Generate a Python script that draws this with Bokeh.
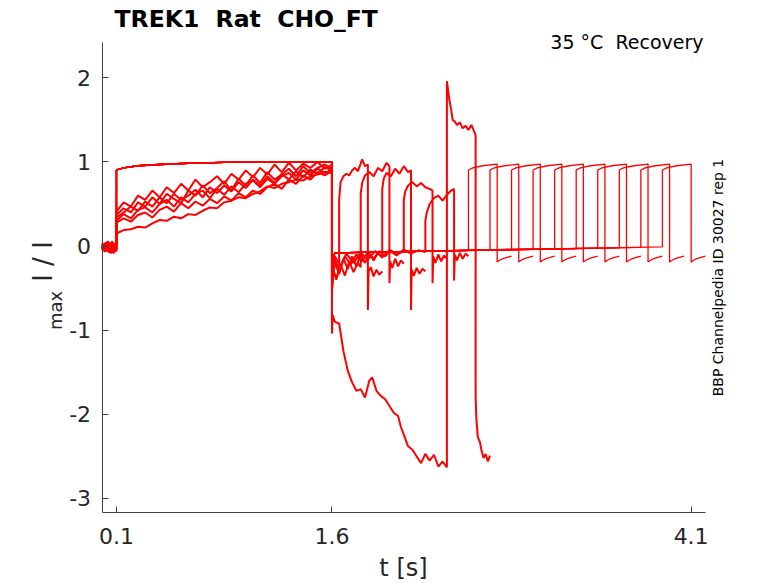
import math
from bokeh.plotting import figure
from bokeh.models import Range1d, FixedTicker, Label
from bokeh.embed import file_html
from bokeh.resources import INLINE

FONT = "DejaVu Sans"

# onset of the second (test) pulse in each sweep [s]
pulse2_on = [1.65, 1.80, 1.95, 2.10, 2.25, 2.40, 2.55, 2.70, 2.85, 3.00,
             3.15, 3.30, 3.45, 3.60, 3.75, 3.90]

# ---- clean sweeps (test pulse from 2.55 s on) ----
clean_base_t = [0.0, 0.10]
clean_base_i = [0.0, 0.0]
clean_p1_t = [0.10, 0.15, 0.25, 0.40, 0.60, 0.85, 1.20, 1.60]
clean_p1_i = [0.905, 0.93, 0.955, 0.97, 0.985, 0.995, 1.0, 1.0]
clean_tail_t = [1.60, 1.62]
clean_tail_i = [-0.20, -0.08]
clean_tail_end = [-0.05, -0.045, -0.04, -0.035, -0.03, -0.03, -0.025, -0.02, -0.015, -0.01]
clean_p2_dt = [0.0, 0.03, 0.10, 0.20]
clean_p2_i = [0.905, 0.93, 0.955, 0.975]
clean_post_dt = [0.20, 0.22, 0.245, 0.275, 0.30]
clean_post_i = [-0.19, -0.165, -0.145, -0.13, -0.12]

# ---- noisy sweeps (test pulse 1.65 .. 2.40 s) ----
noisy_base_t = [0.0, 0.01, 0.02, 0.03, 0.04, 0.05, 0.06, 0.07, 0.08, 0.09, 0.10]
noisy_base_i = [
    [-0.02, 0.03, -0.05, 0.01, -0.07, 0.02, -0.04, 0.04, -0.06, 0.00, -0.03],
    [0.01, -0.04, 0.04, -0.06, 0.00, -0.08, 0.03, -0.05, 0.02, -0.07, -0.01],
    [-0.05, 0.02, -0.03, 0.05, -0.06, 0.01, -0.09, 0.03, -0.04, 0.02, -0.05],
    [0.03, -0.06, 0.00, -0.03, 0.06, -0.05, 0.01, -0.08, 0.04, -0.02, 0.00],
    [-0.03, 0.00, -0.07, 0.03, -0.02, 0.05, -0.04, 0.00, -0.09, 0.03, -0.04],
    [0.00, -0.05, 0.02, -0.02, -0.06, 0.04, -0.03, 0.06, -0.05, -0.01, -0.06],
]
noisy_p1_t = [0.10, 0.15, 0.20, 0.25, 0.30, 0.35, 0.40, 0.45, 0.50, 0.55,
              0.60, 0.65, 0.70, 0.75, 0.80, 0.85, 0.90, 0.95, 1.00, 1.05,
              1.10, 1.15, 1.20, 1.25, 1.30, 1.35, 1.40, 1.45, 1.50, 1.55, 1.60]
noisy_p1_i = [
    [0.41, 0.52, 0.47, 0.60, 0.55, 0.66, 0.58, 0.70, 0.63, 0.74, 0.66, 0.79, 0.70, 0.76, 0.83, 0.74,
     0.86, 0.79, 0.90, 0.82, 0.93, 0.85, 0.97, 0.88, 0.99, 0.90, 0.98, 0.93, 1.00, 0.92, 0.97],
    [0.37, 0.45, 0.40, 0.52, 0.47, 0.58, 0.50, 0.62, 0.56, 0.51, 0.66, 0.60, 0.72, 0.63, 0.69, 0.77,
     0.66, 0.80, 0.72, 0.84, 0.75, 0.88, 0.79, 0.85, 0.92, 0.83, 0.95, 0.87, 0.93, 0.97, 0.92],
    [0.34, 0.40, 0.47, 0.42, 0.53, 0.47, 0.58, 0.51, 0.62, 0.55, 0.60, 0.67, 0.58, 0.70, 0.63, 0.72,
     0.65, 0.76, 0.69, 0.79, 0.72, 0.83, 0.75, 0.86, 0.79, 0.89, 0.82, 0.91, 0.86, 0.94, 0.90],
    [0.30, 0.38, 0.33, 0.43, 0.46, 0.40, 0.50, 0.55, 0.47, 0.58, 0.52, 0.62, 0.66, 0.57, 0.68, 0.61,
     0.71, 0.64, 0.74, 0.78, 0.70, 0.80, 0.74, 0.83, 0.87, 0.79, 0.90, 0.84, 0.92, 0.87, 0.91],
    [0.15, 0.19, 0.20, 0.23, 0.22, 0.27, 0.31, 0.30, 0.35, 0.33, 0.38, 0.37, 0.42, 0.46, 0.45, 0.52,
     0.54, 0.58, 0.57, 0.62, 0.65, 0.71, 0.69, 0.74, 0.76, 0.79, 0.78, 0.83, 0.85, 0.88, 0.87],
    [0.28, 0.33, 0.29, 0.37, 0.40, 0.34, 0.43, 0.47, 0.41, 0.51, 0.45, 0.53, 0.48, 0.56, 0.51, 0.59,
     0.54, 0.63, 0.58, 0.66, 0.62, 0.70, 0.74, 0.68, 0.79, 0.74, 0.84, 0.79, 0.88, 0.84, 0.90],
]
# from 1.6 s: tail, test pulse, and return to holding
noisy_rest_t = [
    [1.60, 1.61, 1.63, 1.65, 1.65, 1.66, 1.68, 1.70, 1.72, 1.74, 1.76, 1.78, 1.80, 1.81, 1.83, 1.85,
     1.85, 1.855, 1.87, 1.89, 1.91, 1.93, 1.95],
    [1.60, 1.61, 1.63, 1.66, 1.69, 1.72, 1.75, 1.78, 1.80, 1.80, 1.81, 1.83, 1.86, 1.89, 1.92, 1.95,
     1.98, 2.00, 2.00, 2.005, 2.02, 2.04, 2.06, 2.08, 2.10],
    [1.60, 1.62, 1.65, 1.68, 1.71, 1.74, 1.77, 1.80, 1.83, 1.86, 1.89, 1.92, 1.95, 1.95, 1.96, 1.98,
     2.01, 2.04, 2.07, 2.10, 2.13, 2.15, 2.15, 2.155, 2.17, 2.19, 2.21, 2.23, 2.25],
    [1.60, 1.62, 1.65, 1.69, 1.73, 1.77, 1.81, 1.85, 1.89, 1.93, 1.97, 2.01, 2.05, 2.10, 2.10, 2.11,
     2.13, 2.16, 2.19, 2.22, 2.25, 2.28, 2.30, 2.30, 2.305, 2.32, 2.34, 2.36, 2.38, 2.40],
    [1.60, 1.62, 1.66, 1.70, 1.75, 1.80, 1.85, 1.90, 1.95, 2.00, 2.05, 2.10, 2.15, 2.20, 2.25, 2.25,
     2.26, 2.28, 2.31, 2.34, 2.37, 2.40, 2.43, 2.45, 2.45, 2.455, 2.47, 2.49, 2.51, 2.53, 2.55],
    [1.60, 1.605, 1.62, 1.65, 1.68, 1.71, 1.74, 1.77, 1.80, 1.83, 1.86, 1.88, 1.91, 1.94, 1.97, 2.00,
     2.03, 2.06, 2.08, 2.10, 2.13, 2.16, 2.19, 2.22, 2.25, 2.28, 2.31, 2.34, 2.37, 2.40, 2.40, 2.405,
     2.415, 2.43, 2.44, 2.455, 2.47, 2.49, 2.51, 2.53, 2.55, 2.57, 2.59, 2.60, 2.60, 2.605, 2.615,
     2.63, 2.64, 2.655, 2.67, 2.685, 2.70],
]
noisy_rest_i = [
    [-0.55, -0.30, -0.38, -0.28, 0.55, 0.76, 0.83, 0.86, 0.84, 0.90, 0.93, 0.89, 0.98, 1.03, 0.95, 0.97,
     -0.76, -0.30, -0.25, -0.36, -0.28, -0.34, -0.30],
    [-0.50, -0.28, -0.40, -0.22, -0.35, -0.18, -0.31, -0.20, -0.25, 0.62, 0.75, 0.84, 0.88, 0.83, 0.93,
     0.89, 0.99, 0.95, -0.44, -0.18, -0.26, -0.15, -0.24, -0.17, -0.21],
    [-0.42, -0.20, -0.33, -0.15, -0.27, -0.12, -0.24, -0.10, -0.20, -0.09, -0.17, -0.08, -0.14, 0.68,
     0.80, 0.87, 0.83, 0.92, 0.86, 0.95, 0.88, 0.90, -0.76, -0.28, -0.35, -0.26, -0.33, -0.27, -0.30],
    [-0.38, -0.16, -0.28, -0.12, -0.22, -0.10, -0.18, -0.07, -0.15, -0.06, -0.12, -0.05, -0.10, -0.06,
     0.55, 0.65, 0.72, 0.76, 0.71, 0.75, 0.70, 0.68, 0.66, -0.44, -0.12, -0.20, -0.10, -0.18, -0.11, -0.15],
    [-0.35, -0.12, -0.24, -0.09, -0.20, -0.08, -0.16, -0.06, -0.13, -0.05, -0.11, -0.04, -0.09, -0.05,
     -0.07, 0.30, 0.40, 0.50, 0.57, 0.60, 0.54, 0.61, 0.66, 0.68, -0.41, -0.10, -0.17, -0.08, -0.15,
     -0.09, -0.12],
    [-1.04, -0.82, -0.90, -0.92, -1.25, -1.48, -1.62, -1.72, -1.70, -1.80, -1.60, -1.56, -1.72, -1.78,
     -1.82, -1.90, -1.98, -2.02, -2.15, -2.24, -2.38, -2.42, -2.50, -2.58, -2.47, -2.55, -2.48, -2.62,
     -2.56, -2.63, 1.96, 1.90, 1.76, 1.62, 1.50, 1.48, 1.44, 1.47, 1.40, 1.43, 1.38, 1.44, 1.36, 1.32,
     -1.78, -2.05, -2.27, -2.33, -2.42, -2.52, -2.47, -2.56, -2.49],
]

x_ticks = [0.1, 1.6, 4.1]
y_ticks = [-3, -2, -1, 0, 1, 2]
t_lim = (0.0, 4.2)
i_lim = (-3.17, 2.42)

# build sweeps
clean_xs, clean_ys = [], []
for k, t2 in enumerate(pulse2_on[6:]):
    clean_xs.append(clean_base_t + clean_p1_t + clean_tail_t + [t2]
                    + [t2 + d for d in clean_p2_dt] + [t2 + d for d in clean_post_dt])
    clean_ys.append(clean_base_i + clean_p1_i + clean_tail_i + [clean_tail_end[k]]
                    + clean_p2_i + clean_post_i)

noisy_xs, noisy_ys = [], []
for k in range(len(noisy_rest_t)):
    noisy_xs.append(noisy_base_t + noisy_p1_t + noisy_rest_t[k])
    noisy_ys.append(noisy_base_i[k] + noisy_p1_i[k] + noisy_rest_i[k])

# the frame fills the canvas; axes are pinned inside it so that the
# title and side texts can sit around the axes without being clipped
W, H = 776, 580
ax_left, ax_right, ax_top, ax_bottom = 101.6, 705.0, 42.0, 512.3
sx = (ax_right - ax_left) / (t_lim[1] - t_lim[0])
sy = (ax_bottom - ax_top) / (i_lim[1] - i_lim[0])
x_range = Range1d(t_lim[0] - ax_left / sx, t_lim[1] + (W - ax_right) / sx)
y_range = Range1d(i_lim[0] - (H - ax_bottom) / sy, i_lim[1] + ax_top / sy)

p = figure(width=W, height=H, min_border=0, x_range=x_range, y_range=y_range,
           output_backend="svg", toolbar_location=None,
           background_fill_color="white", border_fill_color="white")
p.outline_line_color = None
p.grid.visible = False

p.multi_line(noisy_xs, noisy_ys, line_color="#ff0000", line_width=2.0)
p.multi_line(clean_xs, clean_ys, line_color="#ff0000", line_width=1.3)

p.xaxis.fixed_location = i_lim[0]
p.xaxis.bounds = t_lim
p.yaxis.fixed_location = t_lim[0]
p.yaxis.bounds = i_lim

for ax, ticks in ((p.xaxis, x_ticks), (p.yaxis, y_ticks)):
    ax.ticker = FixedTicker(ticks=ticks)
    ax.major_label_overrides = {t: str(t) for t in ticks}
    ax.major_tick_in = 6
    ax.major_tick_out = 0
    ax.minor_tick_line_color = None
    ax.axis_line_color = "#404040"
    ax.major_tick_line_color = "#404040"
    ax.major_label_text_font = FONT
    ax.major_label_text_font_size = "22px"
    ax.major_label_text_color = "#262626"
p.xaxis.major_label_standoff = 15
p.yaxis.major_label_standoff = 11


def add_text(txt, x, y, size, align="left", angle=0.0, bold=False, color="black"):
    # x, y in canvas pixels from the top-left corner, y is the text's middle
    p.add_layout(Label(x=x, y=H - y, x_units="screen", y_units="screen", text=txt,
                       text_font=FONT, text_font_size=size, text_align=align,
                       text_baseline="middle", angle=angle, text_color=color,
                       text_font_style="bold" if bold else "normal"))


NB = "\u00a0"
add_text("TREK1" + NB + " Rat" + NB + " CHO_FT", 114, 18, "23.5px", bold=True)
add_text("35 °C" + NB + " Recovery", 703, 41, "19px", align="right")
add_text("BBP Channelpedia ID 30027 rep 1", 717, 277, "14px", align="center", angle=math.pi / 2)
add_text("I / I", 42, 261, "26px", align="center", angle=math.pi / 2, color="#262626")
add_text("max", 55, 310, "18px", align="center", angle=math.pi / 2, color="#262626")
add_text("t [s]", 403, 567, "24px", align="center", color="#262626")

open("out.html", "w").write(file_html(p, INLINE))
